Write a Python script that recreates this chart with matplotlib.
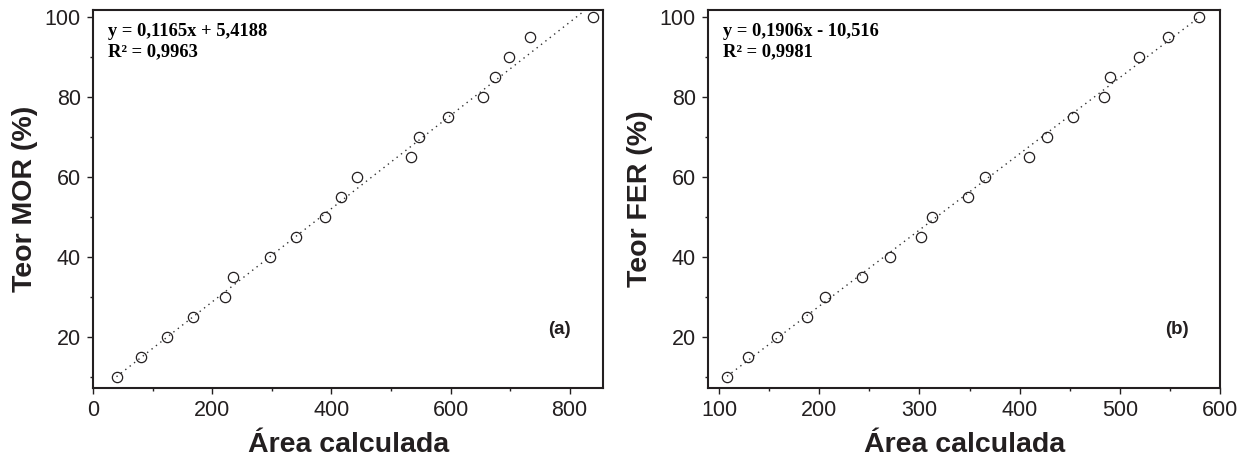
import numpy as np
import matplotlib
matplotlib.use("Agg")
import matplotlib.pyplot as plt
from matplotlib.ticker import MultipleLocator

# Calibration data: calculated peak area vs. content (%)
mor_area = [39, 80, 123, 167, 222, 234, 296, 340, 389, 416, 443, 534, 547, 596, 655, 674, 698, 733, 840]
mor_teor = [10, 15, 20, 25, 30, 35, 40, 45, 50, 55, 60, 65, 70, 75, 80, 85, 90, 95, 100]
mor_fit = (0.1165, 5.4188)
mor_r2 = "0,9963"

fer_area = [108, 129, 158, 188, 206, 243, 271, 302, 313, 348, 365, 409, 427, 453, 484, 490, 519, 548, 579]
fer_teor = [10, 15, 20, 25, 30, 35, 40, 45, 50, 55, 60, 65, 70, 75, 80, 85, 90, 95, 100]
fer_fit = (0.1906, -10.516)
fer_r2 = "0,9981"

INK = "#231f20"
plt.rcParams["font.family"] = ["Liberation Sans", "DejaVu Sans"]

fig = plt.figure(figsize=(12.44, 4.65), dpi=100)
ax_a = fig.add_axes([0.075, 0.1662, 0.4097, 0.8123])
ax_b = fig.add_axes([0.5694, 0.1662, 0.4113, 0.8123])


def fmt_num(v, nd):
    return f"{v:.{nd}f}".replace(".", ",")


def draw_panel(ax, area, teor, fit, r2, ylabel, tag, xlim, xmajor, eq_nd):
    slope, icpt = fit
    xs = np.array([min(area), max(area)])
    ax.plot(xs, slope * xs + icpt, linestyle=(0, (1, 3)), color="#333333", lw=1.0, zorder=1)
    ax.plot(area, teor, linestyle="none", marker="o", ms=7.4, mfc="none",
            mec=INK, mew=0.9, zorder=2)

    ax.set_xlim(*xlim)
    ax.set_ylim(7.2, 101.7)
    ax.xaxis.set_major_locator(MultipleLocator(xmajor))
    ax.xaxis.set_minor_locator(MultipleLocator(xmajor / 2))
    ax.yaxis.set_major_locator(MultipleLocator(20))
    ax.yaxis.set_minor_locator(MultipleLocator(10))

    for s in ax.spines.values():
        s.set_linewidth(1.5)
        s.set_color(INK)
    ax.tick_params(which="both", direction="out", color=INK, top=False, right=False)
    ax.tick_params(which="major", length=4, width=1.0, pad=5, labelsize=15.5, labelcolor=INK)
    ax.tick_params(which="minor", length=2.5, width=1.0)

    ax.set_xlabel("Área calculada", fontsize=20.5, fontweight="bold", color=INK, labelpad=8)
    ax.set_ylabel(ylabel, fontsize=20.5, fontweight="bold", color=INK, labelpad=5)

    sign = "+" if icpt >= 0 else "-"
    eq = f"y = {fmt_num(slope, 4)}x {sign} {fmt_num(abs(icpt), eq_nd)}\nR² = {r2}"
    ax.text(0.028, 0.965, eq, transform=ax.transAxes, ha="left", va="top",
            family=["Liberation Serif", "DejaVu Serif"], fontweight="bold",
            fontsize=13.3, color="black", linespacing=1.25)
    ax.text(0.915, 0.155, tag, transform=ax.transAxes, ha="center", va="center",
            fontsize=13.5, fontweight="bold", color=INK)


draw_panel(ax_a, mor_area, mor_teor, mor_fit, mor_r2, "Teor MOR (%)", "(a)", (0, 856), 200, 4)
draw_panel(ax_b, fer_area, fer_teor, fer_fit, fer_r2, "Teor FER (%)", "(b)", (89.3, 600), 100, 3)

fig.savefig("out.png", dpi=100)
